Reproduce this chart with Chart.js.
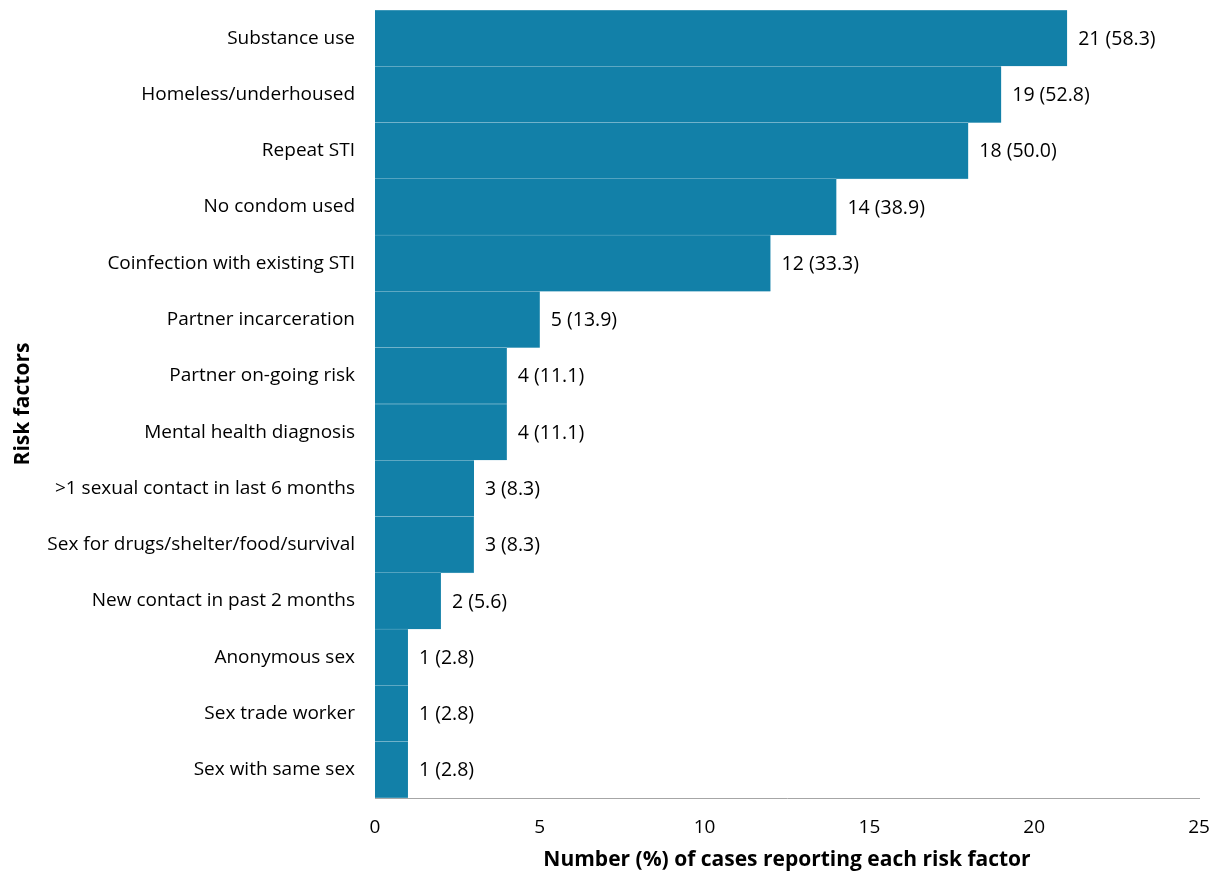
<!DOCTYPE html>
<html>
<head>
<meta charset="utf-8">
<script src="https://cdn.jsdelivr.net/npm/chart.js@4"></script>
<style>
  html, body { margin: 0; padding: 0; background: #fff; }
  #wrap { width: 1217px; height: 873px; }
</style>
</head>
<body>
<div id="wrap"><canvas id="riskChart" width="1217" height="873"></canvas></div>
<script>
// 위험 요인 범주
const riskFactors = [
  'Substance use',
  'Homeless/underhoused',
  'Repeat STI',
  'No condom used',
  'Coinfection with existing STI',
  'Partner incarceration',
  'Partner on-going risk',
  'Mental health diagnosis',
  '>1 sexual contact in last 6 months',
  'Sex for drugs/shelter/food/survival',
  'New contact in past 2 months',
  'Anonymous sex',
  'Sex trade worker',
  'Sex with same sex'
];
// 사례 수
const caseCounts = [21, 19, 18, 14, 12, 5, 4, 4, 3, 3, 2, 1, 1, 1];
// 비율 (%)
const casePercents = ['58.3', '52.8', '50.0', '38.9', '33.3', '13.9', '11.1', '11.1', '8.3', '8.3', '5.6', '2.8', '2.8', '2.8'];
const xTicks = [0, 5, 10, 15, 20, 25];

const FONT = 'Open Sans';

// 막대 끝에 "n (pct)" 라벨을 그리는 플러그인
const barLabels = {
  id: 'barLabels',
  afterDatasetsDraw(chart) {
    const ctx = chart.ctx;
    const meta = chart.getDatasetMeta(0);
    ctx.save();
    ctx.font = `19.5px "${FONT}"`;
    ctx.fillStyle = '#000';
    ctx.textAlign = 'left';
    ctx.textBaseline = 'middle';
    meta.data.forEach((bar, i) => {
      ctx.fillText(`${caseCounts[i]} (${casePercents[i]})`, bar.x + 11, bar.y + 1);
    });
    ctx.restore();
  }
};

new Chart(document.getElementById('riskChart'), {
  type: 'bar',
  data: {
    labels: riskFactors,
    datasets: [{
      data: caseCounts,
      backgroundColor: '#1280a8',
      borderColor: '#a8d0df',
      borderWidth: { top: 0.5, bottom: 0.5, left: 0, right: 0 },
      borderSkipped: false,
      barPercentage: 1,
      categoryPercentage: 1
    }]
  },
  options: {
    indexAxis: 'y',
    responsive: false,
    animation: false,
    layout: { padding: { top: 10, right: 18, left: 0, bottom: 0 } },
    plugins: {
      legend: { display: false },
      tooltip: { enabled: false }
    },
    scales: {
      x: {
        min: 0,
        max: 25,
        afterBuildTicks(scale) {
          scale.ticks = xTicks.map(v => ({ value: v }));
        },
        afterFit(scale) {
          scale.height = 75;
          scale.paddingLeft = 0;
          scale.paddingRight = 0;
        },
        grid: { display: false },
        border: { display: true, color: '#a6a6a6', width: 1 },
        ticks: {
          color: '#000',
          padding: 10,
          font: { family: FONT, size: 19 }
        },
        title: {
          display: true,
          text: 'Number (%) of cases reporting each risk factor',
          color: '#000',
          font: { family: FONT, size: 21, weight: 'bold' },
          padding: { top: 6, bottom: 0 }
        }
      },
      y: {
        afterFit(scale) {
          scale.width = 375;
          scale.paddingTop = 0;
          scale.paddingBottom = 0;
        },
        grid: { display: false },
        border: { display: true, color: '#a6a6a6', width: 1 },
        ticks: {
          color: '#000',
          padding: 12,
          font: { family: FONT, size: 19 }
        },
        title: {
          display: true,
          text: 'Risk factors',
          color: '#000',
          font: { family: FONT, size: 21, weight: 'bold' },
          padding: { top: 10, bottom: 0 }
        }
      }
    }
  },
  plugins: [barLabels]
});
</script>
</body>
</html>
